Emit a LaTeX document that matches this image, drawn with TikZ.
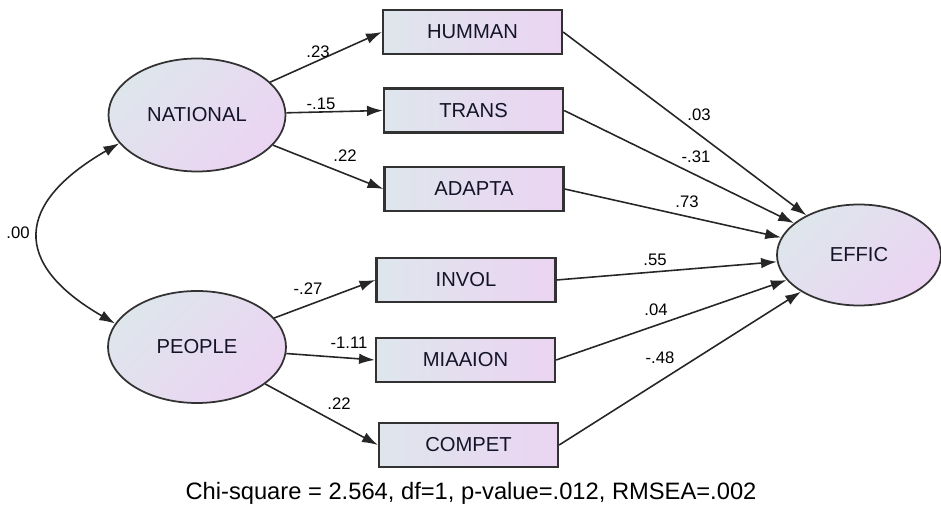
\documentclass[tikz,border=0pt]{standalone}
\usepackage{fontspec}
\setmainfont{Liberation Sans}
\usetikzlibrary{arrows.meta,shapes.geometric}
\definecolor{fillL}{RGB}{222,230,236}
\definecolor{fillR}{RGB}{235,212,242}
\definecolor{edge}{RGB}{50,50,50}
\definecolor{txt}{RGB}{20,20,40}
\tikzset{
  box/.style={draw=edge, line width=1.3pt, left color=fillL, right color=fillR,
    minimum width=179*0.02cm, minimum height=44*0.02cm, inner sep=0pt,
    font=\fontsize{11.5}{12}\selectfont, text=txt},
  latent/.style={draw=edge, line width=1pt, ellipse, left color=fillL, right color=fillR,
    shading angle=45, inner sep=0pt,
    font=\fontsize{11.5}{12}\selectfont, text=txt},
  path/.style={draw=black!85, line width=0.9pt, -{Latex[length=9pt,width=6pt]}},
  coef/.style={font=\fontsize{9.5}{10}\selectfont, inner sep=0pt}
}
\begin{document}
\begin{tikzpicture}[x=0.02cm,y=-0.02cm]
\useasboundingbox (0,0) rectangle (941,506);
% latent variables
\node[latent, minimum width=177*0.02cm, minimum height=113*0.02cm] (nat) at (197,115) {NATIONAL};
\node[latent, minimum width=178*0.02cm, minimum height=112*0.02cm] (peo) at (197,347) {PEOPLE};
\node[latent, minimum width=164*0.02cm, minimum height=101*0.02cm] (eff) at (859,255) {EFFIC};
% observed variables
\node[box] (hum) at (472.5,32) {HUMMAN};
\node[box] (tra) at (473.5,110.5) {TRANS};
\node[box] (ada) at (474,189) {ADAPTA};
\node[box] (inv) at (466,280) {INVOL};
\node[box] (mia) at (465.5,360) {MIAAION};
\node[box] (com) at (468.5,445) {COMPET};
% covariance
\draw[line width=0.9pt, draw=black!85, {Latex[length=9pt,width=6pt]}-{Latex[length=9pt,width=6pt]}]
  (nat.200) .. controls +(-104,60) and +(-104,-60) .. (peo.164);
\node[coef] (c00) at (18,233) {.00};
% paths
\draw[path] (nat) -- (hum.west);
\draw[path] (nat) -- (tra.west);
\draw[path] (nat) -- (ada.west);
\draw[path] (peo) -- (inv.west);
\draw[path] (peo) -- (mia.west);
\draw[path] (peo) -- (com.west);
\draw[path] (hum.east) -- (eff);
\draw[path] (tra.east) -- (eff);
\draw[path] (ada.east) -- (eff);
\draw[path] (inv.east) -- (eff);
\draw[path] (mia.east) -- (eff);
\draw[path] (com.east) -- (eff);
% coefficients
\node[coef] (l1) at (318,52) {.23};
\node[coef] (l2) at (321,104) {-.15};
\node[coef] (l3) at (345,156) {.22};
\node[coef] (l4) at (308,289) {-.27};
\node[coef] (l5) at (349,343) {-1.11};
\node[coef] (l6) at (339,404) {.22};
\node[coef] (l7) at (699,115) {.03};
\node[coef] (l8) at (696,157) {-.31};
\node[coef] (l9) at (687,202) {.73};
\node[coef] (l10) at (655,260) {.55};
\node[coef] (l11) at (656,310) {.04};
\node[coef] (l12) at (660,358) {-.48};
% caption
\node[font=\fontsize{13.5}{14}\selectfont, inner sep=0pt] (cap) at (471,493)
  {Chi-square = 2.564, df=1, p-value=.012, RMSEA=.002};
\end{tikzpicture}
\end{document}
